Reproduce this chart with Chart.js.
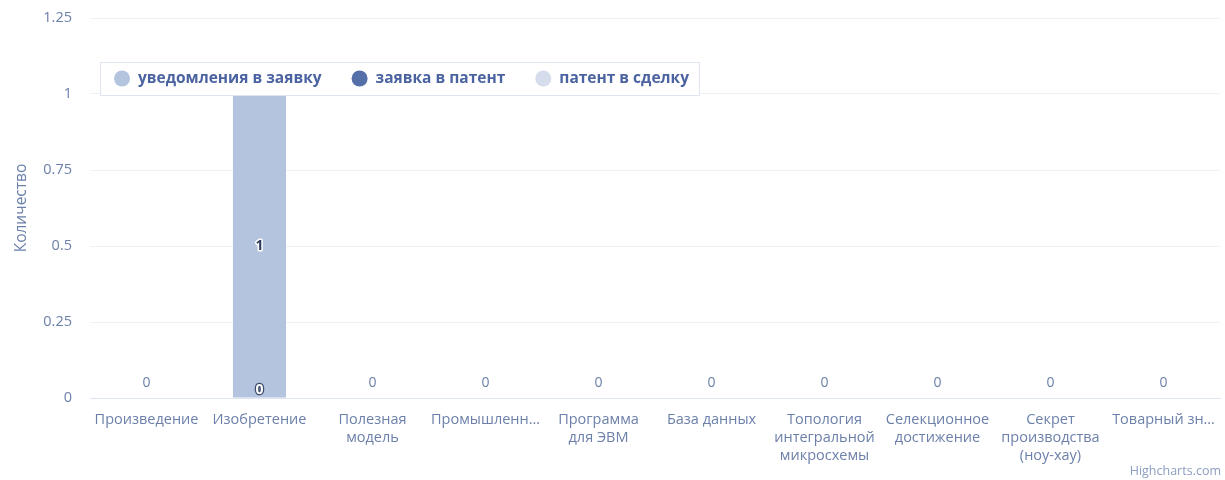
<!DOCTYPE html>
<html>
<head>
<meta charset="utf-8">
<script src="https://cdn.jsdelivr.net/npm/chart.js@4.4.1/dist/chart.umd.min.js"></script>
<style>
  html, body { margin: 0; padding: 0; background: #fff; }
  #wrap { position: relative; width: 1225px; height: 480px; }
</style>
</head>
<body>
<div id="wrap"><canvas id="chart" width="1225" height="480"></canvas></div>
<script>
// Stacked columns by IP object type; three pipeline-stage series.
const categories = [
  ['Произведение'],
  ['Изобретение'],
  ['Полезная', 'модель'],
  ['Промышленн…'],
  ['Программа', 'для ЭВМ'],
  ['База данных'],
  ['Топология', 'интегральной', 'микросхемы'],
  ['Селекционное', 'достижение'],
  ['Секрет', 'производства', '(ноу-хау)'],
  ['Товарный зн…']
];
const seriesNames = ['уведомления в заявку', 'заявка в патент', 'патент в сделку'];
const seriesColors = ['#b4c4df', '#5570a9', '#d5ddec'];
const noticeToApplication = [0, 1, 0, 0, 0, 0, 0, 0, 0, 0];
const applicationToPatent = [0, 0, 0, 0, 0, 0, 0, 0, 0, 0];
const patentToDeal = [0, 0, 0, 0, 0, 0, 0, 0, 0, 0];
const yTicks = ['0', '0.25', '0.5', '0.75', '1', '1.25'];

const FONT = 'Open Sans';
const TEXT = '#6c80aa';

// Value labels: stack totals above each column, series values inside it.
const labelPlugin = {
  id: 'valueLabels',
  afterDatasetsDraw(chart) {
    const { ctx } = chart;
    const y = chart.scales.y;
    const zero = y.getPixelForValue(0);
    ctx.save();
    ctx.textAlign = 'center';
    ctx.textBaseline = 'middle';
    ctx.lineJoin = 'round';
    categories.forEach((_, i) => {
      const metas = chart.data.datasets.map((d, k) => chart.getDatasetMeta(k));
      const x = metas[0].data[i].x;
      const total = chart.data.datasets.reduce((s, d) => s + d.data[i], 0);
      // total label (the one on the tall column sits under the legend)
      ctx.fillStyle = TEXT;
      ctx.font = `14px "${FONT}"`;
      ctx.fillText(String(total), x, y.getPixelForValue(total) - 15);
      if (total === 0) return;
      let zeroDone = false;
      chart.data.datasets.forEach((d, k) => {
        const v = d.data[i];
        const el = metas[k].data[i];
        ctx.font = `bold 14px "${FONT}"`;
        if (v > 0) {
          const my = (el.y + el.base) / 2;
          ctx.lineWidth = 3;
          ctx.strokeStyle = '#ffffff';
          ctx.strokeText(String(v), x, my);
          ctx.fillStyle = '#2d3b5c';
          ctx.fillText(String(v), x, my);
        } else if (!zeroDone) {
          zeroDone = true;
          ctx.lineWidth = 2.5;
          ctx.strokeStyle = '#3e4c6c';
          ctx.strokeText('0', x, zero - 8);
          ctx.fillStyle = '#ffffff';
          ctx.fillText('0', x, zero - 8);
        }
      });
    });
    ctx.restore();
  }
};

// Floating legend box drawn over the plot, like the original.
const legendPlugin = {
  id: 'floatLegend',
  afterDraw(chart) {
    const { ctx } = chart;
    ctx.save();
    ctx.font = `bold 15.5px "${FONT}"`;
    const left = 100, top = 62, h = 33;
    let x = left + 14;
    const items = chart.data.datasets.map((d) => {
      const w = ctx.measureText(d.label).width;
      const item = { x, w, label: d.label, color: d.backgroundColor };
      x += 16 + 8 + w + 30;
      return item;
    });
    const last = items[items.length - 1];
    const right = last.x + 24 + last.w + 10;
    ctx.fillStyle = '#ffffff';
    ctx.fillRect(left, top, right - left, h);
    ctx.strokeStyle = '#dfe5f0';
    ctx.lineWidth = 1;
    ctx.strokeRect(left + 0.5, top + 0.5, right - left, h);
    items.forEach((it) => {
      ctx.beginPath();
      ctx.fillStyle = it.color;
      ctx.arc(it.x + 8, top + h / 2, 8, 0, Math.PI * 2);
      ctx.fill();
      ctx.fillStyle = '#4b63a0';
      ctx.textBaseline = 'middle';
      ctx.fillText(it.label, it.x + 24, top + h / 2);
    });
    ctx.font = `12.5px "${FONT}"`;
    ctx.fillStyle = '#8c9dc0';
    ctx.textAlign = 'right';
    ctx.fillText('Highcharts.com', 1221, 471);
    ctx.restore();
  }
};

const series = [noticeToApplication, applicationToPatent, patentToDeal];

new Chart(document.getElementById('chart'), {
  type: 'bar',
  data: {
    labels: categories,
    datasets: series.map((values, k) => ({
      label: seriesNames[k],
      data: values,
      backgroundColor: seriesColors[k],
      borderWidth: 0,
      categoryPercentage: 1,
      barPercentage: 0.47
    }))
  },
  options: {
    responsive: false,
    animation: false,
    layout: { padding: { left: 12, right: 5, top: 18, bottom: 0 } },
    plugins: { legend: { display: false }, tooltip: { enabled: false } },
    scales: {
      x: {
        stacked: true,
        grid: { display: false },
        border: { color: '#dde3ef', width: 1 },
        ticks: {
          color: TEXT,
          font: { family: FONT, size: 14.5, lineHeight: 1.24 },
          maxRotation: 0,
          autoSkip: false,
          padding: 5
        },
        afterFit(scale) {
          scale.height = 82;
          scale.paddingTop = 0;
        }
      },
      y: {
        stacked: true,
        min: 0,
        max: 1.25,
        ticks: {
          stepSize: 0.25,
          color: TEXT,
          font: { family: FONT, size: 14.5 },
          padding: 18,
          callback: (v, i) => yTicks[i]
        },
        grid: { color: '#eef1f6', drawTicks: false },
        border: { display: false },
        title: {
          display: true,
          text: 'Количество',
          color: TEXT,
          font: { family: FONT, size: 15.5 },
          padding: { top: 0, bottom: 0 }
        },
        afterFit(scale) {
          scale.width = 78;
          scale.paddingTop = 0;
          scale.paddingBottom = 0;
        }
      }
    }
  },
  plugins: [labelPlugin, legendPlugin]
});
</script>
</body>
</html>
